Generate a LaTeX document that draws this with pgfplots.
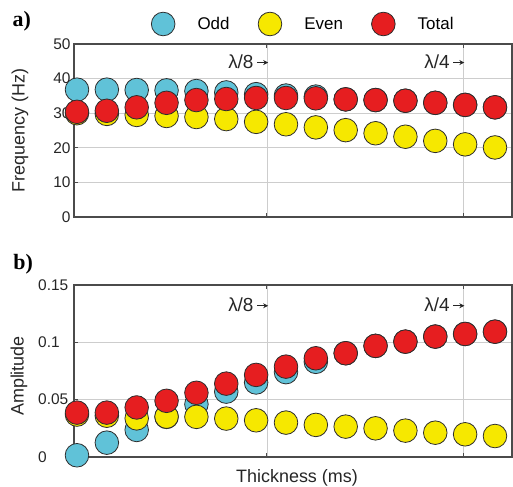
\documentclass[border=0pt]{standalone}
\usepackage{pgfplots}
\usepackage{pgfplotstable}
\pgfplotsset{compat=1.18}
\usetikzlibrary{arrows.meta}
\usepackage{fontspec}
\setmainfont{Liberation Sans}
\newfontfamily\panelfont{Liberation Serif}

\definecolor{oddc}{RGB}{96,194,216}
\definecolor{evenc}{RGB}{246,232,0}
\definecolor{totalc}{RGB}{230,30,32}
\definecolor{framec}{RGB}{75,75,75}
\definecolor{gridc}{RGB}{205,205,205}
\definecolor{edgec}{RGB}{45,45,45}

% peak frequency of the odd, even and total responses (Hz)
\pgfplotstableread{
i  odd   even  total
0  36.8  30.0  30.4
1  36.8  29.8  30.7
2  36.7  29.5  31.7
3  36.6  29.2  33.0
4  36.4  28.9  33.8
5  36.0  28.3  34.1
6  35.5  27.5  34.4
7  35.1  26.8  34.4
8  34.8  25.9  34.3
9  34.0  25.1  34.0
10 33.8  24.2  33.8
11 33.6  23.2  33.6
12 33.0  22.0  33.0
13 32.4  21.0  32.4
14 31.7  20.1  31.7
}\freqdata

% peak amplitude of the odd, even and total responses
\pgfplotstableread{
i  odd     even   total
0  0.0015  0.037  0.0387
1  0.0125  0.036  0.0387
2  0.0236  0.0337 0.0432
3  0.035   0.0352 0.049
4  0.046   0.0350 0.056
5  0.057   0.0335 0.064
6  0.065   0.032  0.0716
7  0.074   0.0300 0.0788
8  0.083   0.0280 0.0861
9  0.0905  0.0265 0.0905
10 0.0969  0.0250 0.0969
11 0.1006  0.0230 0.1006
12 0.1050  0.0212 0.1050
13 0.1073  0.0198 0.1073
14 0.1093  0.0183 0.1093
}\ampdata

\pgfplotsset{
  panel/.style={
    scale only axis, width=438bp, clip=false,
    xmin=-0.1, xmax=14.57,
    xtick={6.36,12.93}, xticklabels={},
    xmajorgrids, ymajorgrids,
    grid style={gridc, line width=0.6bp},
    axis line style={framec, line width=1.1bp},
    tick style={framec, line width=0.8bp},
    major tick length=4bp, tick align=inside,
    ytick pos=left,
    /pgf/number format/assume math mode=true,
    tick label style={font=\fontsize{15.5}{15.5}\selectfont, text=black!85},
    label style={font=\fontsize{18}{18}\selectfont, text=black!85},
    every axis plot/.append style={
      only marks, mark=*, mark size=11.8bp, draw=edgec, line width=0.8bp,
      legend image code/.code={\path (-13bp,0bp) (32bp,0bp); \draw[##1] plot coordinates {(0bp,0bp)};}
    },
  },
}
\newcommand{\rarr}{\tikz[baseline=-0.55ex]\draw[-{Stealth[length=5bp,width=5bp]}, line width=1bp, black!85] (0,0)--(11bp,0);}
\tikzset{
  lam/.style={anchor=east, inner sep=0pt, xshift=2bp, font=\fontsize{19}{19}\selectfont, text=black!85},
  panellabel/.style={font=\panelfont\bfseries\fontsize{22}{22}\selectfont},
}

\begin{document}
\begin{tikzpicture}
\useasboundingbox (0,0) rectangle (513bp,487bp);

% a) frequency
\begin{axis}[panel, at={(74bp,443bp)}, anchor=north west, height=173bp,
  ymin=0, ymax=50, ytick={0,10,...,50},
  ylabel={Frequency (Hz)},
  ylabel style={at={(axis description cs:-0.1233,0.5)}, anchor=center},
  legend columns=3,
  legend style={at={(0.522,1)}, anchor=center, yshift=20bp, draw=none, fill=none,
    font=\fontsize{17}{17}\selectfont,
    /tikz/every even column/.append style={column sep=25bp}},
]
\addplot[fill=oddc]   table[x=i, y=odd]   {\freqdata};
\addplot[fill=evenc]  table[x=i, y=even]  {\freqdata};
\addplot[fill=totalc] table[x=i, y=total] {\freqdata};
\legend{Odd, Even, Total}
\node[lam] at (axis cs:6.36,45) {λ/8\,\rarr};
\node[lam] at (axis cs:12.93,45) {λ/4\,\rarr};
\node[panellabel] at (rel axis cs:-0.119,1.133) {a)};
\end{axis}

% b) amplitude
\begin{axis}[panel, at={(74bp,202bp)}, anchor=north west, height=172bp,
  ymin=0, ymax=0.15, ytick={0,0.05,0.1,0.15},
  scaled y ticks=false,
  yticklabel style={/pgf/number format/fixed, /pgf/number format/precision=2,
    anchor=west, inner sep=0pt, xshift=-36bp},
  ylabel={Amplitude},
  ylabel style={at={(axis description cs:-0.1256,0.471)}, anchor=center},
  xlabel={Thickness (ms)},
  xlabel style={at={(axis description cs:0.5,0)}, anchor=north, yshift=-9bp, xshift=4bp},
]
\addplot[fill=oddc]   table[x=i, y=odd]   {\ampdata};
\addplot[fill=evenc]  table[x=i, y=even]  {\ampdata};
\addplot[fill=totalc] table[x=i, y=total] {\ampdata};
\node[lam] at (axis cs:6.36,0.133) {λ/8\,\rarr};
\node[lam] at (axis cs:12.93,0.133) {λ/4\,\rarr};
\node[panellabel] at (rel axis cs:-0.116,1.122) {b)};
\end{axis}
\end{tikzpicture}
\end{document}
